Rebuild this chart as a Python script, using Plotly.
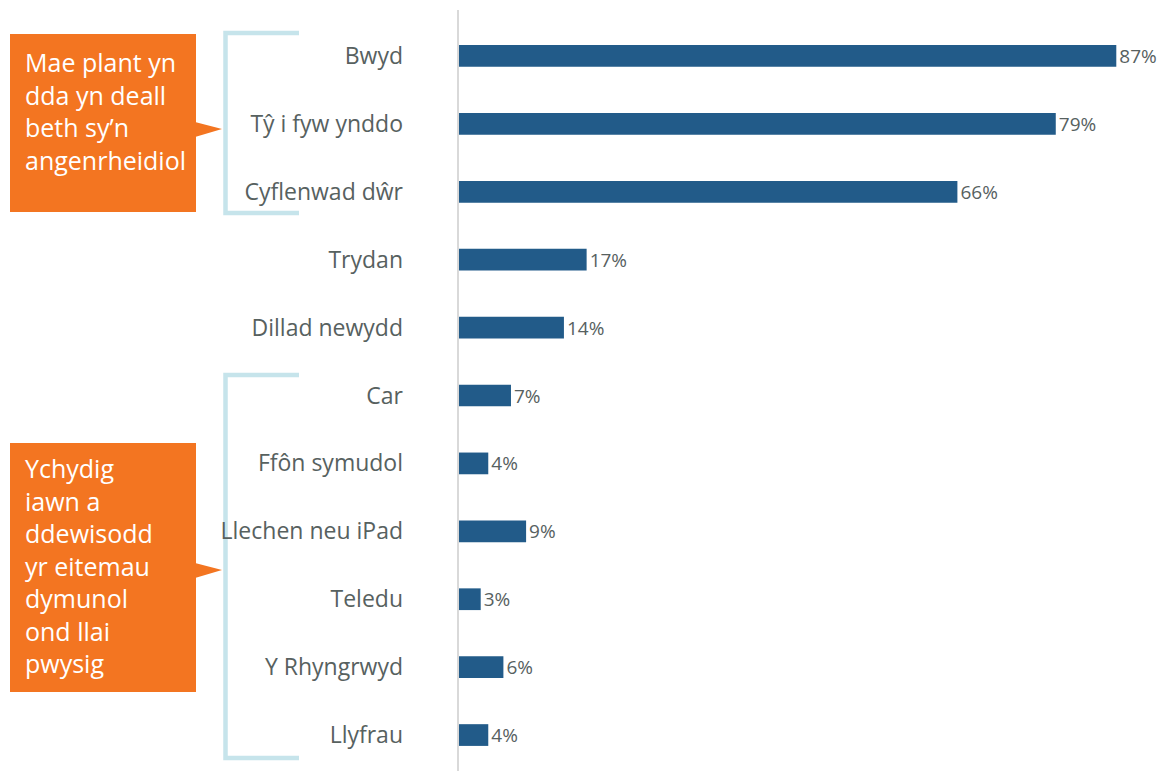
import plotly.graph_objects as go

categories = ["Bwyd", "Tŷ i fyw ynddo", "Cyflenwad dŵr", "Trydan", "Dillad newydd",
              "Car", "Ffôn symudol", "Llechen neu iPad", "Teledu", "Y Rhyngrwyd", "Llyfrau"]
values = [87, 79, 66, 17, 14, 7, 4, 9, 3, 6, 4]
value_labels = [f"{v}%" for v in values]

callout_top = "Mae plant yn<br>dda yn deall<br>beth sy’n<br>angenrheidiol"
callout_bottom = "Ychydig<br>iawn a<br>ddewisodd<br>yr eitemau<br>dymunol<br>ond llai<br>pwysig"

OFF = 8  # page body margin
W_FIG, H_FIG = 1167 - OFF, 779 - 2 * OFF
L, T = 458 - OFF, 22 - OFF
PW, PH = 681, 747
R = W_FIG - L - PW
B = H_FIG - T - PH

def px(x):
    return (x - OFF - L) / PW

def py(y):
    return 1 - (y - OFF - T) / PH

FONT = "Open Sans"
GREY = "#57615f"
BAR = "#225b89"
ORANGE = "#f37521"
BLUE = "#c6e4eb"

fig = go.Figure()
fig.add_trace(go.Bar(
    y=categories, x=values, orientation="h",
    marker=dict(color=BAR, line=dict(width=0)),
    text=value_labels, textposition="outside", cliponaxis=False,
    constraintext="none",
    textfont=dict(family=FONT, size=19, color=GREY),
    hoverinfo="skip",
))

shapes = []
shapes.append(dict(type="line", xref="paper", yref="paper",
                   x0=px(458), x1=px(458), y0=py(10), y1=py(790),
                   line=dict(color="#d9d9d9", width=2)))
for (x0, y0, x1, y1, ay0, ay1, tipy) in [(10, 34, 196, 212, 122, 137, 129),
                                          (10, 443, 196, 692, 563, 578, 570)]:
    shapes.append(dict(type="rect", xref="paper", yref="paper",
                       x0=px(x0), x1=px(x1), y0=py(y1), y1=py(y0),
                       fillcolor=ORANGE, line=dict(width=0), layer="above"))
    path = f"M {px(195)} {py(ay0)} L {px(222)} {py(tipy)} L {px(195)} {py(ay1)} Z"
    shapes.append(dict(type="path", xref="paper", yref="paper", path=path,
                       fillcolor=ORANGE, line=dict(width=0), layer="above"))
for (yt, yb) in [(33, 213), (375, 758)]:
    path = f"M {px(299)} {py(yt)} L {px(225.5)} {py(yt)} L {px(225.5)} {py(yb)} L {px(299)} {py(yb)}"
    shapes.append(dict(type="path", xref="paper", yref="paper", path=path,
                       line=dict(color=BLUE, width=4.5), layer="below"))

annotations = [
    dict(text=callout_top, xref="paper", yref="paper", x=px(23), y=py(43),
         xanchor="left", yanchor="top", align="left", showarrow=False,
         font=dict(family=FONT, size=25, color="white")),
    dict(text=callout_bottom, xref="paper", yref="paper", x=px(23), y=py(449),
         xanchor="left", yanchor="top", align="left", showarrow=False,
         font=dict(family=FONT, size=25, color="white")),
]

fig.update_layout(
    width=W_FIG, height=H_FIG, autosize=False,
    margin=dict(l=L, r=R, t=T, b=B, pad=0),
    paper_bgcolor="white", plot_bgcolor="white",
    showlegend=False, bargap=0.68,
    shapes=shapes, annotations=annotations,
    xaxis=dict(range=[0, 90], visible=False, fixedrange=True),
    yaxis=dict(autorange="reversed", showgrid=False, showline=False, zeroline=False,
               ticks="", ticklabelstandoff=54,
               tickfont=dict(family=FONT, size=23, color=GREY)),
    font=dict(family=FONT),
)

fig.write_html("out.html")
